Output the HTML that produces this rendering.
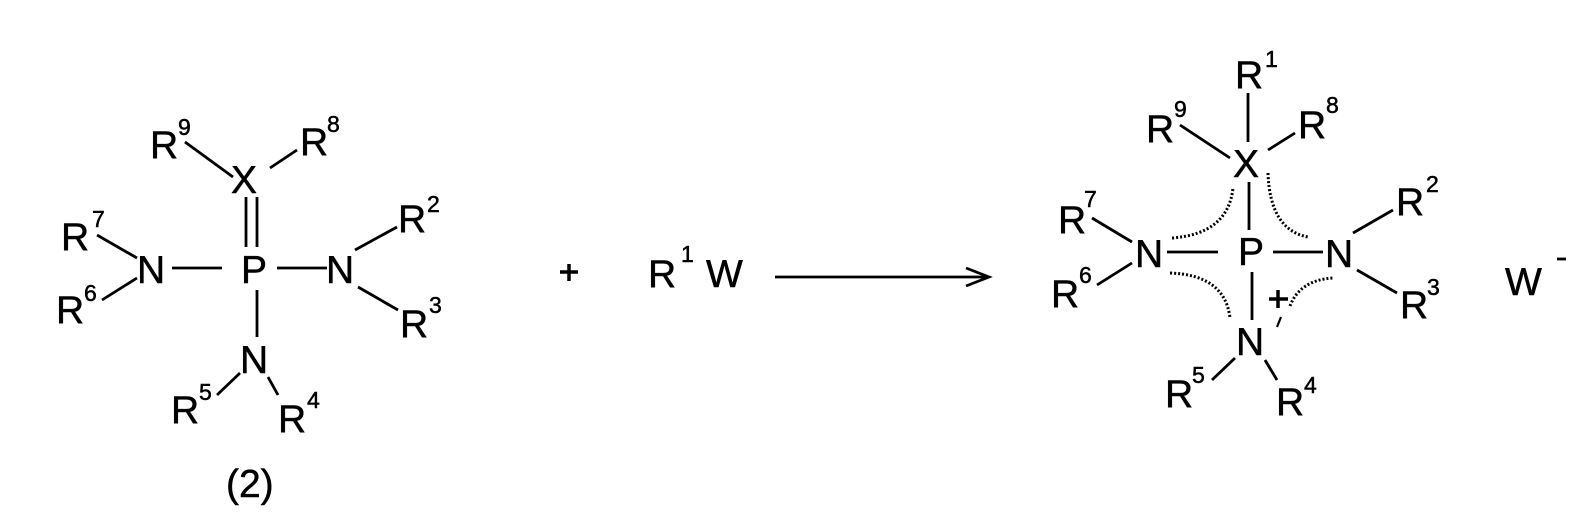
<!DOCTYPE html>
<html><head><meta charset="utf-8"><style>
html,body{margin:0;padding:0;background:#fff;}
svg{display:block;}
text{font-family:"Liberation Sans",Arial,sans-serif;fill:#000;stroke:#000;stroke-width:0.5;}
.b{font-size:39px;}
.s{font-size:23px;}
line,path{stroke:#000;stroke-width:2.8;fill:none;}
.d{stroke-dasharray:2 2;stroke-width:3;}
</style></head><body>
<svg width="1595" height="532" viewBox="0 0 1595 532">
<!-- Left structure -->
<text class="b" x="150" y="158">R</text><text class="s" x="178" y="135">9</text>
<text class="b" x="231" y="193">X</text>
<text class="b" x="300" y="155">R</text><text class="s" x="327" y="132">8</text>
<line x1="185" y1="142" x2="233" y2="177"/>
<line x1="270" y1="168" x2="297" y2="150"/>
<line x1="246" y1="197" x2="246" y2="247"/>
<line x1="257" y1="197" x2="257" y2="247"/>
<text class="b" x="241" y="283">P</text>
<text class="b" x="137" y="283">N</text>
<line x1="172" y1="268" x2="222" y2="268"/>
<line x1="277" y1="268" x2="327" y2="268"/>
<text class="b" x="326" y="283">N</text>
<text class="b" x="61" y="250">R</text><text class="s" x="92" y="227">7</text>
<line x1="97" y1="235" x2="137" y2="258"/>
<text class="b" x="56" y="323">R</text><text class="s" x="84" y="301">6</text>
<line x1="102" y1="300" x2="137" y2="278"/>
<text class="b" x="398" y="232">R</text><text class="s" x="427" y="212">2</text>
<line x1="355" y1="250" x2="397" y2="227"/>
<line x1="358" y1="287" x2="398" y2="310"/>
<text class="b" x="400" y="337">R</text><text class="s" x="429" y="313">3</text>
<line x1="257" y1="290" x2="257" y2="337"/>
<text class="b" x="240" y="373">N</text>
<text class="b" x="171" y="423">R</text><text class="s" x="199" y="400">5</text>
<line x1="217" y1="395" x2="240" y2="373"/>
<line x1="268" y1="377" x2="278" y2="395"/>
<text class="b" x="278" y="432">R</text><text class="s" x="307" y="408">4</text>
<text class="b" x="226" y="497">(2)</text>

<!-- middle -->
<line x1="560" y1="272" x2="578" y2="272" style="stroke-width:3.5"/>
<line x1="569" y1="264" x2="569" y2="281" style="stroke-width:3.5"/>
<text class="b" x="648" y="287">R</text><text class="s" x="681" y="262">1</text>
<text class="b" x="706" y="287">W</text>
<line x1="775" y1="277" x2="985" y2="277"/>
<path d="M966 268 L989 277 L966 286" style="stroke-width:2.8"/>

<!-- right structure -->
<text class="b" x="1235" y="88">R</text><text class="s" x="1265" y="67">1</text>
<line x1="1248" y1="93" x2="1248" y2="142"/>
<text class="b" x="1146" y="142">R</text><text class="s" x="1174" y="117">9</text>
<line x1="1180" y1="125" x2="1230" y2="158"/>
<text class="b" x="1233" y="177">X</text>
<text class="b" x="1298" y="138">R</text><text class="s" x="1326" y="113">8</text>
<line x1="1268" y1="150" x2="1295" y2="133"/>
<line x1="1249" y1="182" x2="1249" y2="230"/>
<text class="b" x="1238" y="265">P</text>
<text class="b" x="1135" y="267">N</text>
<line x1="1167" y1="252" x2="1218" y2="252"/>
<line x1="1273" y1="252" x2="1323" y2="252"/>
<text class="b" x="1325" y="267">N</text>
<text class="b" x="1058" y="233">R</text><text class="s" x="1084" y="207">7</text>
<line x1="1092" y1="218" x2="1132" y2="242"/>
<text class="b" x="1051" y="307">R</text><text class="s" x="1079" y="283">6</text>
<line x1="1097" y1="285" x2="1132" y2="263"/>
<text class="b" x="1396" y="215">R</text><text class="s" x="1426" y="192">2</text>
<line x1="1353" y1="233" x2="1393" y2="210"/>
<line x1="1357" y1="270" x2="1397" y2="293"/>
<text class="b" x="1400" y="318">R</text><text class="s" x="1427" y="295">3</text>
<line x1="1252" y1="272" x2="1252" y2="320"/>
<text class="b" x="1236" y="355">N</text>
<line x1="1269" y1="299" x2="1288" y2="299" style="stroke-width:3.5"/>
<line x1="1278" y1="290" x2="1278" y2="308" style="stroke-width:3.5"/>
<line x1="1281" y1="317" x2="1277" y2="327" style="stroke-width:2.2"/>
<text class="b" x="1165" y="407">R</text><text class="s" x="1192" y="383">5</text>
<line x1="1212" y1="380" x2="1235" y2="358"/>
<line x1="1265" y1="360" x2="1277" y2="380"/>
<text class="b" x="1276" y="415">R</text><text class="s" x="1304" y="393">4</text>
<path class="d" d="M1172 238 Q1228 234 1233 188"/>
<path class="d" d="M1268 173 Q1270 230 1308 237"/>
<path class="d" d="M1170 273 Q1225 275 1230 318"/>
<path class="d" d="M1290 306 Q1300 280 1333 278"/>
<text class="b" x="1505" y="295">W</text>
<line x1="1557" y1="259" x2="1566" y2="259"/>
</svg>
</body></html>
